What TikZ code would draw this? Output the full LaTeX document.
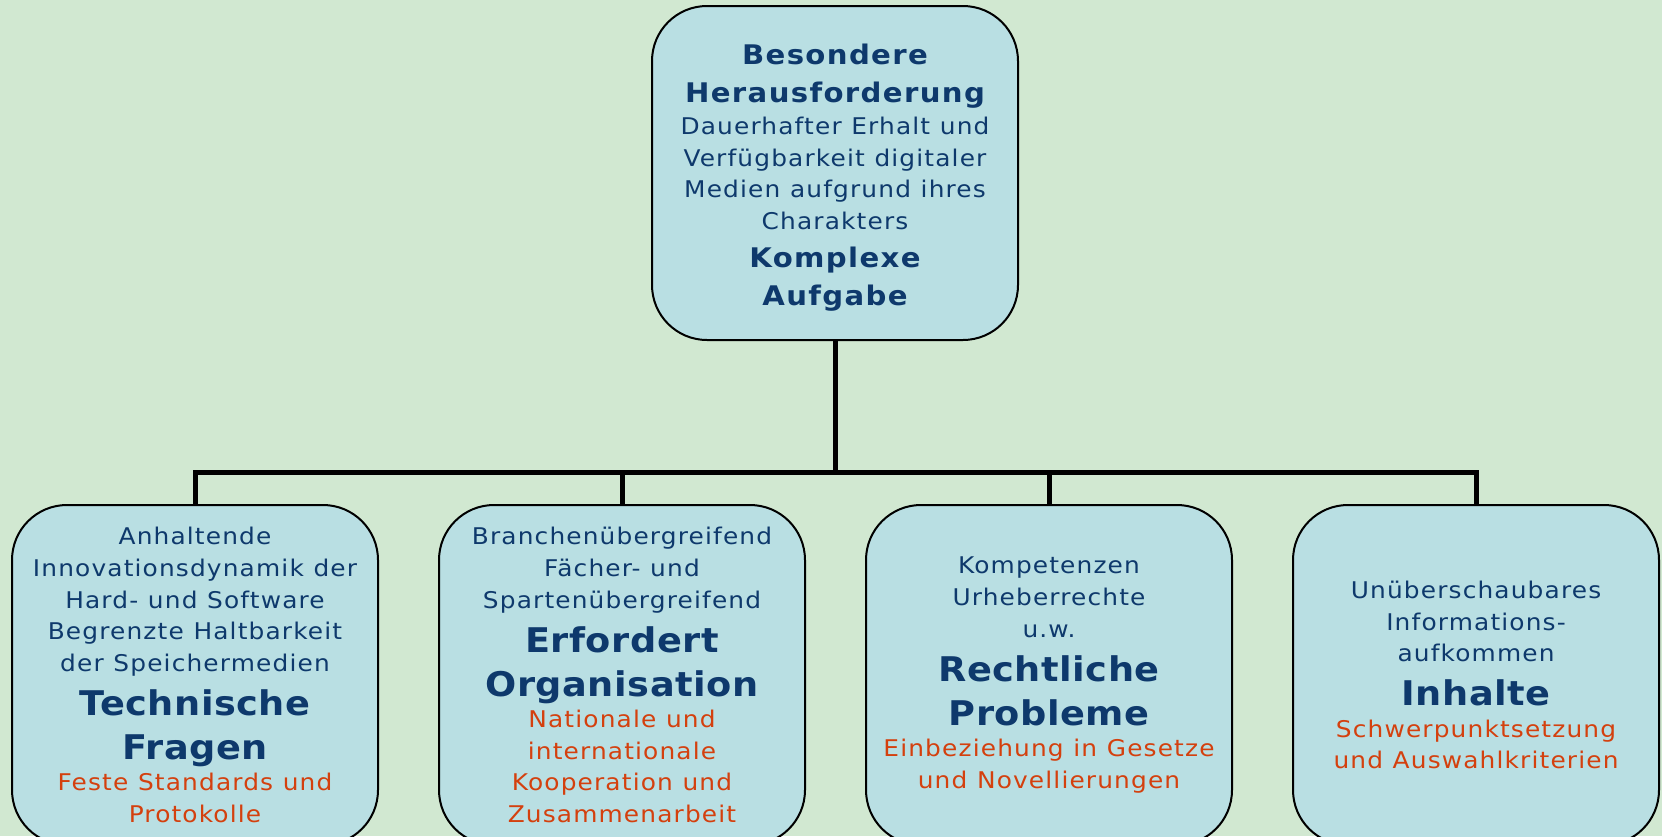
\documentclass[tikz,border=0pt]{standalone}
\usepackage{fontspec}
\setmainfont{DejaVu Sans}[FakeStretch=1.08, LetterSpace=5]
\usepackage{xcolor}
\usetikzlibrary{positioning}
\definecolor{bgGreen}{RGB}{209,232,209}
\definecolor{boxBlue}{RGB}{185,223,227}
\definecolor{textBlue}{RGB}{14,57,108}
\definecolor{noteRed}{RGB}{212,64,14}
\newcommand{\bodyline}[1]{{\fontsize{23}{31.7}\selectfont\spaceskip=.42em\color{textBlue}#1\par}}
\newcommand{\headline}[1]{{\fontsize{34}{44}\selectfont\bfseries\addfontfeature{LetterSpace=1.5}\spaceskip=.42em\color{textBlue}#1\par}}
\newcommand{\topline}[1]{{\fontsize{27}{38}\selectfont\bfseries\color{textBlue}#1\par}}
\newcommand{\noteline}[1]{{\fontsize{23}{31.5}\selectfont\spaceskip=.42em\color{noteRed}#1\par}}
\begin{document}
\begin{tikzpicture}[x=1pt, y=-1pt,
box/.style = {draw, line width=2pt, fill=boxBlue, rounded corners=55pt, text width=350pt, align=center, inner sep=8pt, minimum height=340pt},
topbox/.style = {box, minimum height=334pt},
conn/.style = {line width=5pt, black},
node distance = 427pt
]

    \fill[bgGreen] (0,0) rectangle (1662,836);
    \useasboundingbox (0,0) rectangle (1662,836);

    \node [topbox] (task) at (835,173) {%
        \topline{\rule{0pt}{30pt}Besondere\\Herausforderung}
        \bodyline{Dauerhafter Erhalt und\\Verfügbarkeit digitaler\\Medien aufgrund ihres\\Charakters}
        \topline{Komplexe\\Aufgabe}};

    \node [box] (tech) at (195,675) {%
        \bodyline{Anhaltende\\Innovationsdynamik der\\Hard- und Software\\Begrenzte Haltbarkeit\\der Speichermedien}
        \headline{Technische\\Fragen}
        \noteline{Feste Standards und\\Protokolle}};
    \node [box, right of=tech] (orga) {%
        \bodyline{Branchenübergreifend\\Fächer- und\\Spartenübergreifend}
        \headline{Erfordert\\Organisation}
        \noteline{Nationale und\\internationale\\Kooperation und\\Zusammenarbeit}};
    \node [box, right of=orga] (law) {%
        \bodyline{Kompetenzen\\Urheberrechte\\u.w.}
        \headline{Rechtliche\\Probleme}
        \noteline{Einbeziehung in Gesetze\\und Novellierungen}};
    \node [box, right of=law] (content) {%
        \bodyline{Unüberschaubares\\Informations-\\aufkommen}
        \headline{Inhalte}
        \noteline{Schwerpunktsetzung\\und Auswahlkriterien}};

    \coordinate (bus) at (835,472);

    \draw [conn] (task.south) -- (bus);
    \draw [conn] (tech.north) -- (tech.north |- bus) -- (content.north |- bus) -- (content.north);
    \draw [conn] (orga.north) -- (orga.north |- bus);
    \draw [conn] (law.north) -- (law.north |- bus);

\end{tikzpicture}
\end{document}
